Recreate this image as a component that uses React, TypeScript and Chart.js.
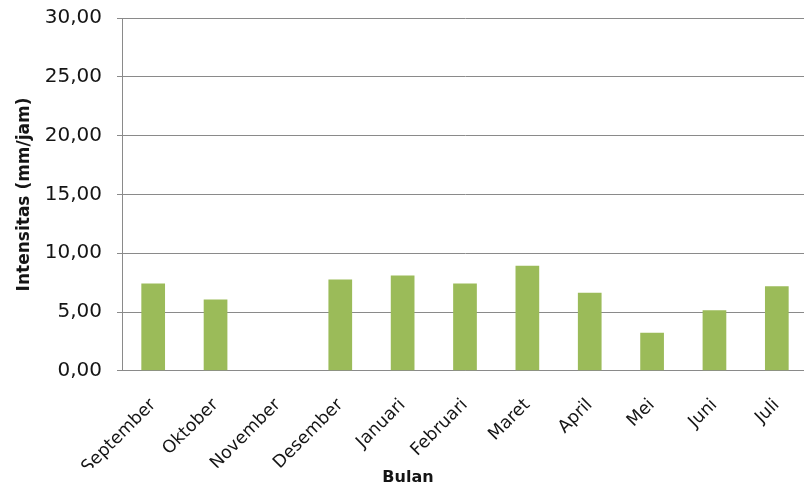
import React, { useEffect, useRef } from 'react';
import { Chart, registerables } from 'chart.js';

Chart.register(...registerables);

const categories = ['September', 'Oktober', 'November', 'Desember', 'Januari', 'Februari', 'Maret', 'April', 'Mei', 'Juni', 'Juli'];
const intensitas = [7.43, 6.06, 0, 7.77, 8.11, 7.43, 8.94, 6.63, 3.23, 5.14, 7.2];
const yTicks = [0, 5, 10, 15, 20, 25, 30];
const yTitle = 'Intensitas (mm/jam)';
const xTitle = 'Bulan';

const FONT = 'DejaVu Sans';
const TEXT = '#151515';
const GRID = '#8a8a8a';

export default function App() {
  const ref = useRef<HTMLCanvasElement>(null);
  useEffect(() => {
    const chart = new Chart(ref.current!, {
      type: 'bar',
      data: {
        labels: categories,
        datasets: [
          {
            data: intensitas,
            backgroundColor: '#9BBB59',
            borderWidth: 0,
            barPercentage: 0.38,
            categoryPercentage: 1,
          },
        ],
      },
      options: {
        responsive: false,
        animation: false,
        layout: { padding: { left: 8, top: 18, right: 0, bottom: 0 } },
        plugins: {
          legend: { display: false },
          tooltip: { enabled: false },
          title: {
            display: true,
            text: xTitle,
            position: 'bottom',
            color: TEXT,
            font: { family: FONT, size: 16, weight: 'bold', lineHeight: 1.2 },
            padding: { top: 0, bottom: 2 },
          },
        },
        scales: {
          x: {
            grid: { display: false, drawTicks: true, tickLength: 8 },
            border: { display: true, color: GRID },
            ticks: {
              minRotation: 45,
              maxRotation: 45,
              autoSkip: false,
              padding: 16,
              color: TEXT,
              font: { family: FONT, size: 17.5 },
            },
            afterFit: (s: any) => {
              s.height = 97;
            },
          },
          y: {
            min: 0,
            max: 30,
            afterBuildTicks: (s: any) => {
              s.ticks = yTicks.map((v) => ({ value: v }));
            },
            ticks: {
              padding: 15,
              color: TEXT,
              font: { family: FONT, size: 20 },
              callback: (v: any) => Number(v).toFixed(2).replace('.', ','),
            },
            grid: { color: GRID, tickLength: 5 },
            border: { color: GRID },
            title: {
              display: true,
              text: yTitle,
              color: TEXT,
              font: { family: FONT, size: 17, weight: 'bold', lineHeight: 1.2 },
              padding: { top: 6, bottom: 0 },
            },
            afterFit: (s: any) => {
              s.width = 114;
              s.paddingTop = 0;
              s.paddingBottom = 0;
            },
          },
        },
      },
    } as any);
    return () => chart.destroy();
  }, []);
  return (
    <div style={{ position: 'fixed', left: 0, top: 0, width: 804, height: 489, overflow: 'hidden', background: '#fff' }}>
      <canvas ref={ref} width={808} height={489} style={{ display: 'block' }} />
    </div>
  );
}
